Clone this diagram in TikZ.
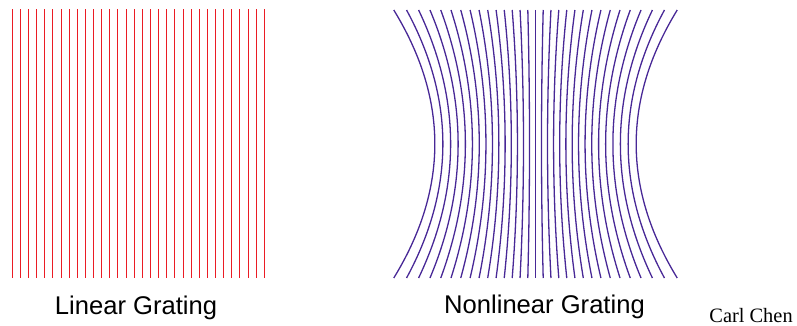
\documentclass[tikz,border=0pt]{standalone}
\usepackage{fontspec}
\setmainfont{Liberation Sans}
\newfontfamily\serifcc{Liberation Serif}
\definecolor{gratred}{RGB}{235,28,36}
\definecolor{gratblue}{RGB}{72,40,150}
\begin{document}
\begin{tikzpicture}[x=0.5pt,y=-0.5pt,
  redline/.style={draw=gratred,line width=0.5pt},
  blueline/.style={draw=gratblue,line width=0.65pt},
  labeltext/.style={font=\fontsize{12.8pt}{14pt}\selectfont,inner sep=0pt,anchor=base},
  signtext/.style={font=\serifcc\fontsize{10.2pt}{12pt}\selectfont,inner sep=0pt,anchor=base west}]
\useasboundingbox (0,0) rectangle (797,326);
% linear grating
\foreach \k in {0,...,31} {
  \pgfmathsetmacro\xx{floor(12.3+8.13*\k)+0.5}
  \draw[redline] (\xx,9.5) -- (\xx,278);
}
% nonlinear grating
\foreach \i in {-15,...,15} {
  \pgfmathsetmacro\T{102.3*sinh(0.0753*\i)}
  \pgfmathsetmacro\M{108.5*sinh(0.0553*\i)}
  \draw[blueline] plot[domain=10:278,samples=40,smooth,variable=\y]
    ({535.5+\M+(\T-\M)*((\y-144)/134)*((\y-144)/134)},{\y});
}
\node[labeltext] (lin) at (136,314.3) {Linear Grating};
\node[labeltext] (nonlin) at (544.5,313.5) {Nonlinear Grating};
\node[signtext] (author) at (709,322) {Carl Chen};
\end{tikzpicture}
\end{document}
